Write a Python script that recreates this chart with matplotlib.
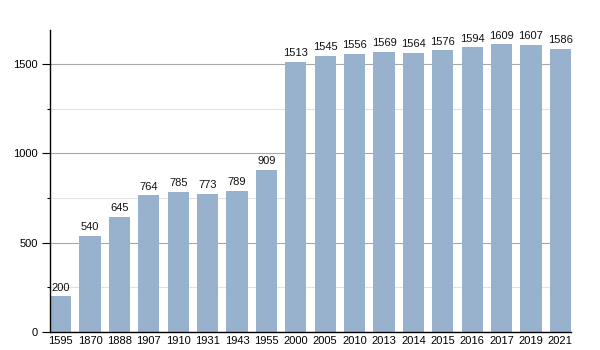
import matplotlib.pyplot as plt
from matplotlib.ticker import MultipleLocator

years = ['1595', '1870', '1888', '1907', '1910', '1931', '1943', '1955', '2000', '2005',
         '2010', '2013', '2014', '2015', '2016', '2017', '2019', '2021']
population = [200, 540, 645, 764, 785, 773, 789, 909, 1513, 1545,
              1556, 1569, 1564, 1576, 1594, 1609, 1607, 1586]

plt.rcParams['font.family'] = ['Liberation Sans', 'DejaVu Sans']
plt.rcParams['font.size'] = 8

fig = plt.figure(figsize=(6, 3.5), dpi=100)
ax = fig.add_axes([50 / 600, 18 / 350, 521 / 600, 302 / 350])

w = 0.724
x = range(len(years))
bars = ax.bar(x, population, width=w, color='#98b2cd', zorder=2)
for b, v in zip(bars, population):
    ax.text(b.get_x() + b.get_width() / 2, v + 20, str(v), ha='center', va='bottom',
            fontsize=8, color='#111111', zorder=3)

ax.set_xlim(-w / 2, len(years) - 1 + w / 2)
ax.set_ylim(0, 1690)
ax.set_xticks(list(x))
ax.set_xticklabels(years)
ax.yaxis.set_major_locator(MultipleLocator(500))
ax.yaxis.set_minor_locator(MultipleLocator(250))
ax.grid(axis='y', which='major', color='#a8a8a8', linewidth=0.8, zorder=0)
ax.grid(axis='y', which='minor', color='#e2e2e2', linewidth=0.8, zorder=0)
ax.tick_params(axis='x', length=0, pad=3)
ax.tick_params(axis='y', which='major', length=6, width=0.8, pad=2.5)
ax.tick_params(axis='y', which='minor', length=2, width=0.8)
for s in ['top', 'right']:
    ax.spines[s].set_visible(False)
ax.spines['left'].set_linewidth(1)
ax.spines['bottom'].set_linewidth(1)

fig.savefig('out.png', dpi=100)
